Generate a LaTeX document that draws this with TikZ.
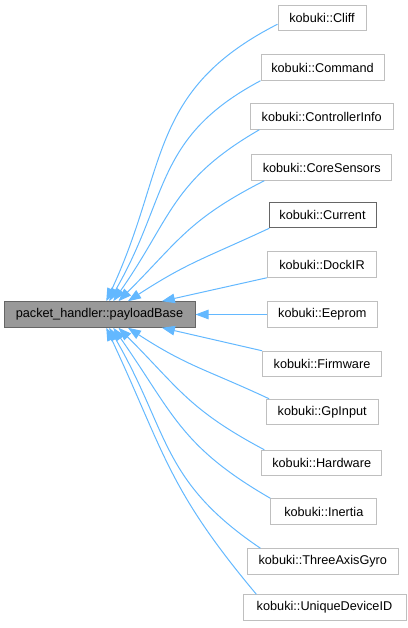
\documentclass[tikz,border=0pt]{standalone}
\usepackage{fontspec}
\setmainfont{Liberation Sans}
\usetikzlibrary{arrows.meta}
\definecolor{edgeblue}{HTML}{63B8FF}
\definecolor{boxline}{HTML}{BFBFBF}
\definecolor{baseline}{HTML}{666666}
\definecolor{basefill}{HTML}{999999}
\tikzset{
  cls/.style={draw=boxline, fill=white, line width=1pt, minimum height=25.5pt,
    inner sep=0pt, font=\fontsize{12.7}{15}\selectfont},
  basecls/.style={cls, draw=baseline, fill=basefill},
  inherit/.style={->, draw=edgeblue, line width=1pt, looseness=1.15}
}
\begin{document}
\begin{tikzpicture}[x=1pt,y=1pt,>={Triangle[length=13pt,width=9.5pt]}]
    \useasboundingbox (0,0) rectangle (407,628);
    % base class
    \node[basecls, minimum width=191pt] (base) at (99.5,313.5) {packet\_handler::payloadBase};
    % derived classes
    \node[cls, minimum width=88pt] (cliff) at (322,610) {kobuki::Cliff};
    \node[cls, minimum width=123pt] (command) at (322.5,560.5) {kobuki::Command};
    \node[cls, minimum width=143pt] (ctrlinfo) at (321.7,511.5) {kobuki::ControllerInfo};
    \node[cls, minimum width=140pt] (coresensors) at (321.7,460.5) {kobuki::CoreSensors};
    \node[cls, draw=baseline, minimum width=107pt] (current) at (322.5,413) {kobuki::Current};
    \node[cls, minimum width=109pt] (dockir) at (322,363.5) {kobuki::DockIR};
    \node[cls, minimum width=110pt] (eeprom) at (322.3,313.5) {kobuki::Eeprom};
    \node[cls, minimum width=119pt] (firmware) at (322,264) {kobuki::Firmware};
    \node[cls, minimum width=112pt] (gpinput) at (322.2,216) {kobuki::GpInput};
    \node[cls, minimum width=120pt] (hardware) at (321.7,165) {kobuki::Hardware};
    \node[cls, minimum width=106pt] (inertia) at (323.8,116.5) {kobuki::Inertia};
    \node[cls, minimum width=151pt] (gyro) at (322.8,66.5) {kobuki::ThreeAxisGyro};
    \node[cls, minimum width=163pt] (uniqueid) at (324.5,20.5) {kobuki::UniqueDeviceID};
    % inheritance edges
    \draw[inherit] (cliff.188) to[out=207,in=65] (base.63);
    \draw[inherit] (command.south west) to[out=208,in=60] (base.54);
    \draw[inherit] (ctrlinfo.192) to[out=210,in=55] (base.44);
    \draw[inherit] (coresensors.193) to[out=207,in=45] (base.35);
    \draw[inherit] (current.194) to[out=205,in=33] (base.25);
    \draw[inherit] (dockir.south west) -- (base.12);
    \draw[inherit] (eeprom.west) -- (base.east);
    \draw[inherit] (firmware.north west) -- (base.-12);
    \draw[inherit] (gpinput.166) to[out=155,in=-33] (base.-25);
    \draw[inherit] (hardware.167) to[out=152,in=-45] (base.-35);
    \draw[inherit] (inertia.north west) to[out=150,in=-55] (base.-44);
    \draw[inherit] (gyro.168) to[out=146,in=-60] (base.-54);
    \draw[inherit] (uniqueid.169) to[out=130,in=-65] (base.-63);
\end{tikzpicture}
\end{document}
